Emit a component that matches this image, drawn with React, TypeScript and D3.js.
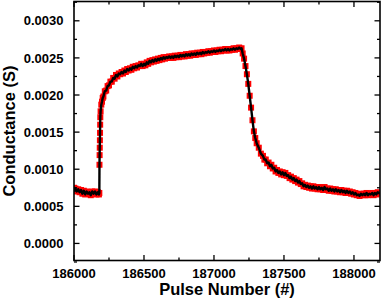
import React from "react";
import * as d3 from "d3";

const pulseNumbers: number[] = [
  186000, 186005, 186010, 186020, 186030, 186040, 186050, 186060, 186070, 186080,
  186090, 186100, 186110, 186120, 186130, 186140, 186150, 186160, 186170, 186178, 186181,
  186182, 186183, 186184, 186185, 186186, 186187, 186188,
  186190, 186195, 186200, 186205, 186210, 186220, 186230, 186240, 186250, 186260,
  186270, 186280, 186290,
  186300, 186310, 186320, 186330, 186340, 186350, 186360, 186370, 186380, 186390,
  186400, 186410, 186420, 186430, 186440, 186450, 186460, 186470, 186480, 186490,
  186500, 186510, 186520, 186530, 186540, 186550, 186560, 186570, 186580, 186590,
  186600, 186610, 186620, 186630, 186640, 186650, 186660, 186670, 186680, 186690,
  186700, 186710, 186720, 186730, 186740, 186750, 186760, 186770, 186780, 186790,
  186800, 186810, 186820, 186830, 186840, 186850, 186860, 186870, 186880, 186890,
  186900, 186910, 186920, 186930, 186940, 186950, 186960, 186970, 186980, 186990,
  187000, 187010, 187020, 187030, 187040, 187050, 187060, 187070, 187080, 187090,
  187100, 187110, 187120, 187130, 187140, 187150, 187160, 187170, 187180, 187190, 187197,
  187205, 187215, 187225, 187235, 187245, 187255, 187265, 187275, 187285, 187295,
  187305, 187320, 187335,
  187350, 187360, 187370, 187380, 187390, 187400, 187410, 187420, 187430, 187440,
  187450, 187460, 187470, 187480, 187490, 187500, 187510, 187520, 187530, 187540,
  187550, 187560, 187570, 187580, 187590, 187600, 187610, 187620, 187630, 187640,
  187650, 187660, 187670, 187680, 187690, 187700, 187710, 187720, 187730, 187740,
  187750, 187760, 187770, 187780, 187790, 187800, 187810, 187820, 187830, 187840,
  187850, 187860, 187870, 187880, 187890, 187900, 187910, 187920, 187930, 187940,
  187950, 187960, 187970, 187980, 187990, 188000, 188010, 188020, 188030, 188040,
  188050, 188060, 188070, 188080, 188090, 188100, 188110, 188120, 188130, 188140,
  188150, 188160, 188170, 188185,
];

const conductance: number[] = [
  0.00075, 0.00071, 0.00074, 0.0007, 0.00073, 0.00069, 0.00072, 0.00067, 0.00071, 0.00066,
  0.0007, 0.00067, 0.00069, 0.00065, 0.0007, 0.00067, 0.0007, 0.00066, 0.00069, 0.00066, 0.00068,
  0.00106, 0.00119, 0.00129, 0.00139, 0.00149, 0.0016, 0.0017,
  0.00178, 0.00187, 0.00191, 0.00196, 0.00198, 0.00205, 0.00206, 0.00212, 0.00213, 0.00218,
  0.00218, 0.00223, 0.00222,
  0.00227, 0.00225, 0.00229, 0.00228, 0.00231, 0.00229, 0.00233, 0.00231, 0.00235, 0.00233,
  0.00236, 0.00234, 0.00238, 0.00236, 0.00239, 0.00237, 0.0024, 0.00239, 0.00242, 0.00239,
  0.00242, 0.0024, 0.00244, 0.00242, 0.00246, 0.00244, 0.00247, 0.00245, 0.00248, 0.00246,
  0.00249, 0.00247, 0.0025, 0.00248, 0.00251, 0.00249, 0.00251, 0.0025, 0.00252, 0.0025,
  0.00252, 0.0025, 0.00253, 0.00251, 0.00253, 0.00251, 0.00254, 0.00252, 0.00254, 0.00252,
  0.00255, 0.00253, 0.00255, 0.00253, 0.00256, 0.00254, 0.00256, 0.00254, 0.00257, 0.00255,
  0.00257, 0.00255, 0.00258, 0.00256, 0.00258, 0.00257, 0.00259, 0.00257, 0.00259, 0.00258,
  0.0026, 0.00258, 0.0026, 0.00259, 0.00261, 0.00259, 0.00261, 0.0026, 0.00262, 0.0026,
  0.00262, 0.0026, 0.00262, 0.00261, 0.00263, 0.00261, 0.00263, 0.00262, 0.00264, 0.00262, 0.00263,
  0.00256, 0.00249, 0.00239, 0.00228, 0.00215, 0.00199, 0.00183, 0.00166, 0.00151, 0.00142,
  0.00135, 0.00129, 0.00121,
  0.00118, 0.00113, 0.00113, 0.00108, 0.00109, 0.00104, 0.00106, 0.00101, 0.00102, 0.00097,
  0.00099, 0.00095, 0.00097, 0.00093, 0.00096, 0.00092, 0.00095, 0.00091, 0.00092, 0.00088,
  0.0009, 0.00086, 0.00088, 0.00084, 0.00086, 0.00082, 0.00084, 0.0008, 0.00081, 0.00077,
  0.00079, 0.00076, 0.00078, 0.00075, 0.00077, 0.00074, 0.00077, 0.00074, 0.00076, 0.00073,
  0.00076, 0.00073, 0.00075, 0.00072, 0.00076, 0.00073, 0.00074, 0.00071, 0.00074, 0.00071,
  0.00073, 0.0007, 0.00073, 0.0007, 0.00072, 0.00069, 0.00072, 0.00069, 0.00071, 0.00068,
  0.00071, 0.00068, 0.0007, 0.00067, 0.00069, 0.00066, 0.00068, 0.00065, 0.00066, 0.00064,
  0.00067, 0.00065, 0.00067, 0.00065, 0.00068, 0.00065, 0.00067, 0.00066, 0.00068, 0.00065,
  0.00068, 0.00066, 0.00069, 0.00067,
];

const xTicks: number[] = [186000, 186500, 187000, 187500, 188000];
const xMinorTicks: number[] = [186250, 186750, 187250, 187750];
const yTicks: number[] = [0, 0.0005, 0.001, 0.0015, 0.002, 0.0025, 0.003];
const yMinorTicks: number[] = [-0.00025, 0.00025, 0.00075, 0.00125, 0.00175, 0.00225, 0.00275, 0.00325];

const xTitle = "Pulse Number (#)";
const yTitle = "Conductance (S)";

export default function App() {
  const W = 382;
  const H = 302;
  const left = 74;
  const right = 380;
  const top = 1.5;
  const bottom = 260.5;

  const x = d3.scaleLinear().domain([186000, 188186]).range([left, right]);
  const y = d3.scaleLinear().domain([-0.00023, 0.00326]).range([bottom, top]);

  const pts = pulseNumbers.map((p, i) => [p, conductance[i]] as [number, number]);
  const line = d3
    .line<[number, number]>()
    .x((d) => x(d[0]))
    .y((d) => y(d[1]))(pts) as string;

  const font = "'Liberation Sans', Arial, sans-serif";
  const ms = 6;
  const major = 5.5;
  const minor = 3;

  return (
    <svg
      width={W}
      height={H}
      style={{ position: "absolute", left: 0, top: 0, background: "#fff" }}
    >
      <defs>
        <clipPath id="plotclip">
          <rect x={left} y={top} width={right - left} height={bottom - top} />
        </clipPath>
      </defs>
      <g clipPath="url(#plotclip)">
        {pts.map((d, i) => (
          <rect
            key={i}
            x={x(d[0]) - ms / 2}
            y={y(d[1]) - ms / 2}
            width={ms}
            height={ms}
            fill="#ff0000"
          />
        ))}
        <path d={line} fill="none" stroke="#000" strokeWidth={2.4} strokeLinejoin="round" />
      </g>

      <g stroke="#000" strokeWidth={1.3}>
        {xTicks.map((t) => (
          <g key={"xt" + t}>
            <line x1={x(t)} x2={x(t)} y1={bottom} y2={bottom - major} />
            <line x1={x(t)} x2={x(t)} y1={top} y2={top + major} />
          </g>
        ))}
        {xMinorTicks.map((t) => (
          <g key={"xm" + t}>
            <line x1={x(t)} x2={x(t)} y1={bottom} y2={bottom - minor} />
            <line x1={x(t)} x2={x(t)} y1={top} y2={top + minor} />
          </g>
        ))}
        {yTicks.map((t) => (
          <g key={"yt" + t}>
            <line x1={left} x2={left + major} y1={y(t)} y2={y(t)} />
            <line x1={right} x2={right - major} y1={y(t)} y2={y(t)} />
          </g>
        ))}
        {yMinorTicks.map((t) => (
          <g key={"ym" + t}>
            <line x1={left} x2={left + minor} y1={y(t)} y2={y(t)} />
            <line x1={right} x2={right - minor} y1={y(t)} y2={y(t)} />
          </g>
        ))}
      </g>

      <rect
        x={left}
        y={top}
        width={right - left}
        height={bottom - top}
        fill="none"
        stroke="#000"
        strokeWidth={1.6}
      />

      <g fontFamily={font} fontWeight="bold" fontSize={13} fill="#000">
        {xTicks.map((t) => (
          <text key={"xl" + t} x={x(t)} y={277.5} textAnchor="middle">
            {String(t)}
          </text>
        ))}
        {yTicks.map((t) => (
          <text key={"yl" + t} x={63.5} y={y(t)} dy="0.36em" textAnchor="end">
            {t.toFixed(4)}
          </text>
        ))}
      </g>

      <text
        x={(left + right) / 2}
        y={295}
        textAnchor="middle"
        fontFamily={font}
        fontWeight="bold"
        fontSize={16.5}
      >
        {xTitle}
      </text>
      <text
        transform={`translate(15, ${(top + bottom) / 2}) rotate(-90)`}
        textAnchor="middle"
        fontFamily={font}
        fontWeight="bold"
        fontSize={16.5}
      >
        {yTitle}
      </text>
    </svg>
  );
}
